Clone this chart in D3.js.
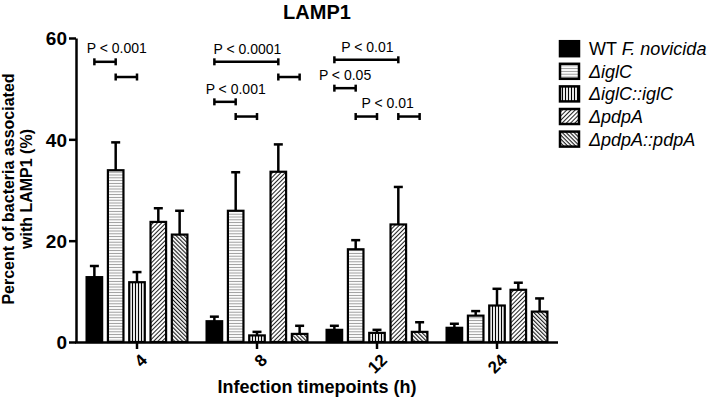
<!DOCTYPE html>
<html><head><meta charset="utf-8">
<script src="https://cdnjs.cloudflare.com/ajax/libs/d3/7.8.5/d3.min.js"></script>
<style>body{margin:0;background:#fff;}svg{display:block;font-family:"Liberation Sans",Arial,sans-serif;}</style>
</head><body>
<svg id="chart" width="714" height="400"></svg>
<script>
// ---- data ----
const timepoints = ["4", "8", "12", "24"];
const strains = ["WT", "iglC", "iglCcomp", "pdpA", "pdpAcomp"];
const means = {
  WT:       [12.8, 4.1, 2.4, 2.8],
  iglC:     [33.9, 25.9, 18.3, 5.2],
  iglCcomp: [11.8, 1.3, 1.8, 7.2],
  pdpA:     [23.7, 33.6, 23.2, 10.3],
  pdpAcomp: [21.2, 1.6, 2.0, 6.0]
};
const errTops = {
  WT:       [15.0, 5.0, 3.2, 3.6],
  iglC:     [39.4, 33.5, 20.1, 6.1],
  iglCcomp: [13.8, 2.0, 2.4, 10.5],
  pdpA:     [26.4, 39.0, 30.6, 11.7],
  pdpAcomp: [25.9, 3.2, 3.9, 8.6]
};
const yTicks = [0, 20, 40, 60];
// significance brackets: group, from strain index, to strain index, y value
const bracketGroup = ["4", "4", "8", "8", "8", "8", "12", "12", "12", "12"];
const bracketFrom  = [0, 1, 0, 3, 0, 1, 0, 0, 1, 3];
const bracketTo    = [1, 2, 3, 4, 1, 2, 3, 1, 2, 4];
const bracketY     = [55.3, 52.3, 55.3, 52.3, 47.4, 44.5, 55.7, 50.1, 44.5, 44.5];
// p-value labels: group, strain position (fractional), y value, text
const pGroup = ["4", "8", "8", "12", "12", "12"];
const pPos   = [1.05, 1.55, 1.0, 1.55, 0.5, 2.5];
const pY     = [57.0, 56.8, 48.9, 57.3, 51.7, 46.2];
const pText  = ["P < 0.001", "P < 0.0001", "P < 0.001", "P < 0.01", "P < 0.05", "P < 0.01"];

const svg = d3.select("#chart");
const defs = svg.append("defs");
function linePattern(id, angle, spacing, color, sw) {
  const p = defs.append("pattern").attr("id", id).attr("patternUnits", "userSpaceOnUse")
    .attr("width", spacing).attr("height", spacing)
    .attr("patternTransform", `rotate(${angle})`);
  p.append("rect").attr("width", spacing).attr("height", spacing).attr("fill", "#fff");
  p.append("line").attr("x1", 0).attr("x2", spacing).attr("y1", spacing / 2).attr("y2", spacing / 2)
    .attr("stroke", color).attr("stroke-width", sw);
}
linePattern("pH", 0, 2.8, "#9a9a9a", 1);
linePattern("pV", 90, 3, "#000", 1.2);
linePattern("pD1", -45, 3, "#222", 1);
linePattern("pD2", 45, 2.8, "#111", 1.1);
const fills = { WT: "#000", iglC: "url(#pH)", iglCcomp: "url(#pV)", pdpA: "url(#pD1)", pdpAcomp: "url(#pD2)" };

const x0 = d3.scaleBand().domain(timepoints).range([77, 557]).padding(0);
const x1 = d3.scaleBand().domain(strains).range([0, x0.bandwidth()]).paddingInner(0.27).paddingOuter(0.45);
const y = d3.scaleLinear().domain([0, 60]).range([342, 38]);
const cx = (g, pos) => x0(g) + x1(strains[0]) + pos * x1.step() + x1.bandwidth() / 2;

// bars
const groups = svg.append("g").selectAll("g").data(timepoints).join("g")
  .attr("transform", d => `translate(${x0(d)},0)`);
groups.each(function(tp, ti) {
  const g = d3.select(this);
  strains.forEach(s => {
    const bx = x1(s), bw = x1.bandwidth(), ex = bx + bw / 2;
    g.append("line").attr("x1", ex).attr("x2", ex).attr("y1", y(means[s][ti])).attr("y2", y(errTops[s][ti]))
      .attr("stroke", "#000").attr("stroke-width", 2.5);
    g.append("line").attr("x1", ex - 4.5).attr("x2", ex + 4.5).attr("y1", y(errTops[s][ti])).attr("y2", y(errTops[s][ti]))
      .attr("stroke", "#000").attr("stroke-width", 2.5);
    g.append("rect").attr("x", bx).attr("width", bw).attr("y", y(means[s][ti]))
      .attr("height", y(0) - y(means[s][ti])).attr("fill", fills[s]).attr("stroke", "#000").attr("stroke-width", 2.2);
  });
});

// axes
const yAxis = svg.append("g").attr("transform", "translate(76,0)")
  .call(d3.axisLeft(y).tickValues(yTicks).tickSize(7).tickSizeOuter(0));
yAxis.select(".domain").attr("stroke-width", 2.5);
yAxis.selectAll(".tick line").attr("stroke-width", 2.5);
yAxis.selectAll("text").attr("font-size", 19).attr("font-weight", "bold").attr("fill", "#000").attr("dx", "1").attr("dy", "0.36em");

const xAxis = svg.append("g").attr("transform", "translate(0,342)")
  .call(d3.axisBottom(x0).tickSize(7).tickSizeOuter(0));
xAxis.select(".domain").attr("d", "M75,0.5H558").attr("stroke-width", 2.5);
xAxis.selectAll(".tick line").attr("stroke-width", 2.5);
xAxis.selectAll("text").attr("font-size", 17).attr("font-weight", "bold").attr("fill", "#000")
  .attr("text-anchor", "end").attr("transform", "translate(7,15) rotate(-45)").attr("dy", "0.35em").attr("y", 0).attr("x", 0);

// brackets
const br = svg.append("g").attr("stroke", "#000").attr("stroke-width", 2.5);
bracketGroup.forEach((g, i) => {
  const xa = cx(g, bracketFrom[i]), xb = cx(g, bracketTo[i]), yy = y(bracketY[i]);
  br.append("line").attr("x1", xa).attr("x2", xb).attr("y1", yy).attr("y2", yy);
  br.append("line").attr("x1", xa).attr("x2", xa).attr("y1", yy - 3.5).attr("y2", yy + 3.5);
  br.append("line").attr("x1", xb).attr("x2", xb).attr("y1", yy - 3.5).attr("y2", yy + 3.5);
});
pGroup.forEach((g, i) => {
  svg.append("text").attr("x", cx(g, pPos[i])).attr("y", y(pY[i])).attr("text-anchor", "middle")
    .attr("font-size", 14).text(pText[i]);
});

// titles
svg.append("text").attr("x", 317).attr("y", 19).attr("text-anchor", "middle").attr("font-size", 20)
  .attr("font-weight", "bold").text("LAMP1");
svg.append("text").attr("x", 317).attr("y", 393).attr("text-anchor", "middle").attr("font-size", 18)
  .attr("font-weight", "bold").text("Infection timepoints (h)");
const yl = svg.append("text").attr("transform", "translate(14,189) rotate(-90)").attr("text-anchor", "middle")
  .attr("font-size", 16).attr("font-weight", "bold");
yl.append("tspan").attr("x", 0).attr("y", 0).text("Percent of bacteria associated");
yl.append("tspan").attr("x", 0).attr("y", 18).text("with LAMP1 (%)");

// legend
const legendLabels = [
  [["WT ", "normal"], ["F. novicida", "italic"]],
  [["ΔiglC", "italic"]],
  [["ΔiglC::iglC", "italic"]],
  [["ΔpdpA", "italic"]],
  [["ΔpdpA::pdpA", "italic"]]
];
const lg = svg.append("g");
strains.forEach((s, i) => {
  const cy = 48.7 + i * 22.6;
  lg.append("rect").attr("x", 560).attr("y", cy - 7.5).attr("width", 19).attr("height", 15)
    .attr("fill", fills[s]).attr("stroke", "#000").attr("stroke-width", 2.5);
  const t = lg.append("text").attr("x", 589).attr("y", cy + 6.5).attr("font-size", 18);
  legendLabels[i].forEach(([txt, st]) => t.append("tspan").attr("font-style", st).text(txt));
});
</script>
</body></html>
